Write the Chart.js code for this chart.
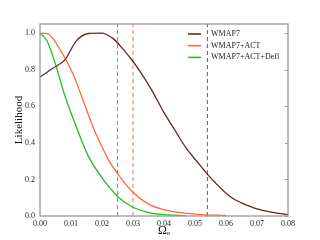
<!DOCTYPE html>
<html>
<head>
<meta charset="utf-8">
<script src="https://cdn.jsdelivr.net/npm/chart.js"></script>
<style>
  html, body { margin: 0; padding: 0; background: #fff; }
  #wrap { width: 320px; height: 240px; }
</style>
</head>
<body>
<div id="wrap"><canvas id="myChart" width="320" height="240"></canvas></div>
<script>
// WMAP7
const wmapX = [0, 0.004, 0.0081, 0.0116, 0.0156, 0.0197, 0.0236, 0.0274, 0.030, 0.0323, 0.036, 0.040, 0.0435, 0.047, 0.0516, 0.0541, 0.060, 0.0624, 0.065, 0.070, 0.075, 0.080];
const wmapY = [0.76, 0.807, 0.855, 0.955, 0.998, 1.0, 0.97, 0.90, 0.845, 0.79, 0.69, 0.565, 0.47, 0.375, 0.278, 0.226, 0.125, 0.094, 0.072, 0.039, 0.02, 0.008];

// WMAP7+ACT
const actX = [0, 0.0027, 0.0065, 0.0107, 0.0134, 0.0175, 0.0194, 0.022, 0.025, 0.030, 0.035, 0.040, 0.046, 0.052, 0.060];
const actY = [1.0, 0.995, 0.91, 0.775, 0.655, 0.47, 0.40, 0.31, 0.232, 0.13, 0.065, 0.035, 0.017, 0.008, 0.003];

// WMAP7+ACT+Defl
const deflX = [0, 0.0022, 0.0048, 0.0081, 0.0121, 0.0155, 0.0194, 0.025, 0.030, 0.0355, 0.040, 0.047];
const deflY = [1.0, 0.96, 0.84, 0.655, 0.47, 0.33, 0.223, 0.107, 0.048, 0.017, 0.008, 0.002];

// dashed vertical markers
const markX = [0.025, 0.030, 0.054];

const xTicks = [0, 0.01, 0.02, 0.03, 0.04, 0.05, 0.06, 0.07, 0.08];
const yTicks = [0, 0.2, 0.4, 0.6, 0.8, 1.0];

const labels = ['WMAP7', 'WMAP7+ACT', 'WMAP7+ACT+Defl'];

function pts(xs, ys) {
  return xs.map((x, i) => ({ x: x, y: ys[i] }));
}
function vline(x) {
  return [{ x: x, y: 0 }, { x: x, y: 1.05 }];
}

const serif = "'Liberation Serif', 'DejaVu Serif', serif";

const framePlugin = {
  id: 'frame',
  afterDatasetsDraw(chart) {
    const a = chart.chartArea;
    const c = chart.ctx;
    c.save();
    c.strokeStyle = '#9a9a9a';
    c.lineWidth = 1.3;
    c.strokeRect(a.left, a.top, a.right - a.left, a.bottom - a.top);
    c.lineWidth = 1;
    const ys = chart.scales.y;
    yTicks.forEach(v => {
      const py = Math.round(ys.getPixelForValue(v)) + 0.5;
      c.beginPath();
      c.moveTo(a.right, py);
      c.lineTo(a.right - 3, py);
      c.stroke();
    });
    c.restore();
  }
};

const legendPlugin = {
  id: 'lineLegend',
  afterDraw(chart) {
    const a = chart.chartArea;
    const c = chart.ctx;
    c.save();
    c.font = '8px ' + serif;
    c.textBaseline = 'middle';
    c.fillStyle = '#222';
    for (let i = 0; i < 3; i++) {
      const ds = chart.data.datasets[i];
      const y = a.top + 10 + i * 11.7;
      c.strokeStyle = ds.borderColor;
      c.lineWidth = 1.6;
      c.beginPath();
      c.moveTo(a.right - 100, y);
      c.lineTo(a.right - 87, y);
      c.stroke();
      c.fillText(ds.label, a.right - 77, y);
    }
    c.restore();
  }
};

const ctx = document.getElementById('myChart');

new Chart(ctx, {
  type: 'scatter',
  data: {
    datasets: [
      { label: labels[0], data: pts(wmapX, wmapY), borderColor: '#5b2c20', borderWidth: 1.3, showLine: true, pointRadius: 0, cubicInterpolationMode: 'monotone', order: 1 },
      { label: labels[1], data: pts(actX, actY), borderColor: '#ff6a35', borderWidth: 1.3, showLine: true, pointRadius: 0, cubicInterpolationMode: 'monotone', order: 2 },
      { label: labels[2], data: pts(deflX, deflY), borderColor: '#1fbf1f', borderWidth: 1.3, showLine: true, pointRadius: 0, cubicInterpolationMode: 'monotone', order: 3 },
      { label: 'm1', data: vline(markX[0]), borderColor: '#45c045', borderWidth: 1, borderDash: [4, 3], showLine: true, pointRadius: 0, order: 10 },
      { label: 'm2', data: vline(markX[1]), borderColor: '#f9bba6', borderWidth: 2, borderDash: [4, 3], showLine: true, pointRadius: 0, order: 10 },
      { label: 'm3', data: vline(markX[2]), borderColor: '#7a5246', borderWidth: 1, borderDash: [4, 3], showLine: true, pointRadius: 0, order: 10 }
    ]
  },
  options: {
    responsive: false,
    animation: false,
    layout: { padding: { left: 0, top: 24, right: 32, bottom: 0 } },
    plugins: {
      legend: { display: false },
      tooltip: { enabled: false }
    },
    scales: {
      x: {
        type: 'linear',
        min: 0,
        max: 0.08,
        grid: { display: false, drawTicks: false },
        border: { display: false },
        afterBuildTicks: s => { s.ticks = xTicks.map(v => ({ value: v })); },
        afterFit: s => { s.height = 24; },
        ticks: {
          padding: 3,
          color: '#222',
          font: { family: serif, size: 8 },
          maxRotation: 0,
          callback: v => v.toFixed(2)
        },
        title: {
          display: true,
          text: 'Ωₑ',
          color: '#111',
          font: { family: serif, size: 12 },
          padding: { top: 0, bottom: 2 }
        }
      },
      y: {
        type: 'linear',
        min: 0,
        max: 1.05,
        grid: { display: false, drawTicks: false },
        border: { display: false },
        afterBuildTicks: s => { s.ticks = yTicks.map(v => ({ value: v })); },
        afterFit: s => { s.width = 40; },
        ticks: {
          padding: 5,
          color: '#222',
          font: { family: serif, size: 8 },
          callback: v => v.toFixed(1)
        },
        title: {
          display: true,
          text: 'Likelihood',
          color: '#111',
          font: { family: serif, size: 11 },
          padding: { top: 13, bottom: 0 }
        }
      }
    }
  },
  plugins: [framePlugin, legendPlugin]
});
</script>
</body>
</html>
